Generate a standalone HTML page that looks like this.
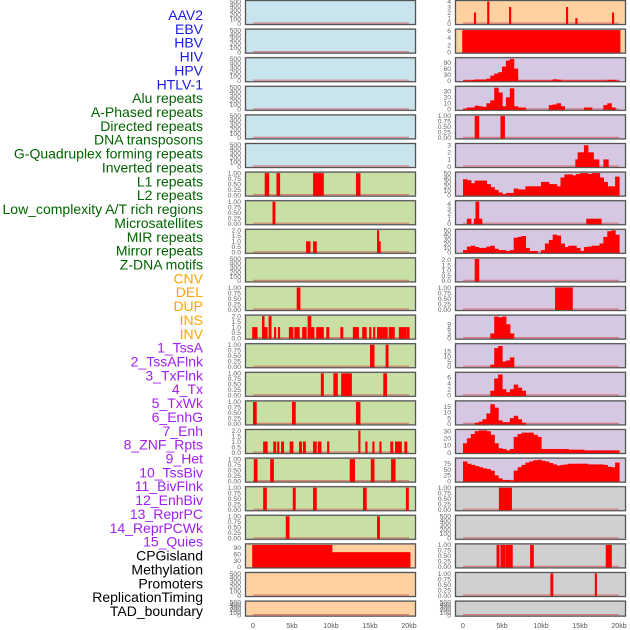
<!DOCTYPE html>
<html><head><meta charset="utf-8">
<style>
html,body{margin:0;padding:0;background:#fff;}
svg{display:block;font-family:"Liberation Sans",sans-serif;}
</style></head>
<body>
<svg id="chart" width="630" height="630" viewBox="0 0 630 630"></svg>
<script>
// ---- labels ----
const trackLabels = ["AAV2","EBV","HBV","HIV","HPV","HTLV-1","Alu repeats","A-Phased repeats","Directed repeats","DNA transposons","G-Quadruplex forming repeats","Inverted repeats","L1 repeats","L2 repeats","Low_complexity A/T rich regions","Microsatellites","MIR repeats","Mirror repeats","Z-DNA motifs","CNV","DEL","DUP","INS","INV","1_TssA","2_TssAFlnk","3_TxFlnk","4_Tx","5_TxWk","6_EnhG","7_Enh","8_ZNF_Rpts","9_Het","10_TssBiv","11_BivFlnk","12_EnhBiv","13_ReprPC","14_ReprPCWk","15_Quies","CPGisland","Methylation","Promoters","ReplicationTiming","TAD_boundary"];
const labelGroupSizes = [6,13,5,15,5];
const xTickValues = [0,5,10,15,20];
const xTickLabels = ["0","5kb","10kb","15kb","20kb"];
// ---- tick sets ----
const ticks500 = [0,100,200,300,400,500];
const ticks1 = [0,0.25,0.5,0.75,1];
const ticks2 = [0,0.5,1,1.5,2];
// ---- left column data (segments: start kb, end kb, value) ----
const leftL1 = [[1.5,2.0,1],[3.0,3.4,1],[7.7,9.0,1],[13.2,13.7,1]];
const leftL2 = [[2.5,2.8,1]];
const leftMIR = [[6.8,7.3,1],[7.7,8.1,1],[15.9,16.1,2],[16.1,16.3,1]];
const leftMicro = [[5.6,6.0,1]];
const leftINS = [[-0.1,0.5,1],[1.15,1.4,2],[1.4,1.8,1],[2.0,2.3,2],[2.7,2.9,1],[3.2,3.4,1],[4.6,5.1,1],[5.3,5.9,1],[6.3,6.8,1],[7.0,7.4,2],[7.4,7.8,1],[8.1,9.0,1],[9.4,9.7,1],[11.2,11.5,1],[12.8,13.5,1],[14.0,14.5,1],[14.9,15.1,1],[15.4,15.6,1],[15.9,17.2,1],[17.4,18.1,1],[18.7,19.6,1],[19.7,20.0,1]];
const leftR13 = [[15.0,15.5,1],[17.0,17.3,1]];
const leftR14 = [[8.7,9.0,1],[10.3,10.8,1],[11.3,12.6,1],[16.7,17.1,1]];
const leftR15 = [[0,0.4,1],[5.0,5.4,1],[13.2,13.7,1]];
const leftR16 = [[1.3,1.8,1],[2.6,2.9,1],[3.1,3.3,1],[3.6,3.9,1],[4.7,5.1,1],[5.9,6.2,1],[6.4,6.7,1],[7.7,8.1,1],[8.3,8.7,1],[9.5,9.7,1],[13.5,13.7,2],[14.4,14.6,1],[15.3,15.5,1],[16.2,16.4,1],[17.6,17.9,1],[18.2,19.0,1],[19.4,19.7,1]];
const leftR17 = [[0.1,0.5,1],[2.2,2.6,1],[12.4,13.0,1],[15.1,15.5,1],[17.7,18.2,1]];
const leftR18 = [[1.3,1.7,1],[5.1,5.4,1],[7.7,8.1,1],[14.1,14.5,1],[19.6,19.9,1]];
const leftR19 = [[4.2,4.6,1],[15.9,16.2,1]];
const leftCPG = [[-0.1,10.1,103],[10.1,20.1,69]];
// ---- right column data ----
const rightAAV2 = [[1.4,1.6,2],[3.1,3.3,4],[5.9,6.1,3],[13.2,13.4,3],[14.4,14.6,1],[19.1,19.3,2]];
const rightHBV = [[-0.1,20.1,6.2]];
const rightHIVBins = [2,2,3,6,6,6,10,25,35,42,70,100,108,60,1,1,1,1,1,1,1,1,1,7,5,1,1,1,1,1,1,1,1,1,1,1,1,4,4,1];
const rightAluBins = [1,3,3,6,5,4,10,15,36,28,5,20,35,5,3,3,0,0,0,0,0,0,7,8,10,5,0,0,0,0,0,3,3,0,0,0,7,10,3,0];
const rightDirected = [[1.5,2.0,1],[4.8,5.3,1]];
const rightDNA = [[14.4,14.7,1],[14.7,15.5,2],[15.5,16.0,3],[16.0,16.7,2],[16.7,17.4,1],[18.0,18.6,1]];
const rightGQuadBins = [36,34,27,33,33,33,25,18,12,6,2,5,5,15,13,13,20,20,20,20,30,30,25,25,20,40,47,47,45,48,50,50,48,50,50,40,30,20,20,42];
const rightL2 = [[0.5,1.0,1],[1.4,1.6,1],[1.6,2.0,4.4],[2.0,2.4,1],[15.8,17.7,1]];
const rightMIRBins = [5,13,15,12,10,10,13,15,8,5,5,3,5,33,35,37,10,3,3,0,5,20,28,40,38,20,12,15,15,10,3,12,13,15,15,20,35,48,50,40];
const rightMirror = [[1.5,2.0,2.1]];
const rightZDNA = [[11.8,14.0,1]];
const rightR12 = [[3.5,4.0,3],[4.0,4.5,14],[4.5,5.0,13.5],[5.0,5.5,14],[5.5,6.0,9],[6.0,6.5,3]];
const rightR13 = [[3.5,4.0,2],[4.0,4.5,18],[4.5,5.0,20],[5.0,5.5,5],[5.5,6.0,6],[6.0,6.5,9]];
const rightR14 = [[3.5,4.0,1.5],[4.0,4.5,5.5],[4.5,5.0,6.8],[5.0,5.5,2],[5.5,6.0,1],[6.0,6.5,2],[6.5,7.0,3.5],[7.0,7.5,2.5],[7.5,8.0,1.5]];
const rightR15 = [[1.5,2.0,1],[2.0,2.5,2],[2.5,3.0,4],[3.0,3.5,9],[3.5,4.0,17],[4.0,4.5,14],[4.5,5.0,3],[5.0,6.0,1.5],[6.0,6.5,5],[6.5,7.0,7],[7.0,7.5,4],[7.5,8.0,1]];
const rightR16Bins = [13,20,26,30,31,31,30,25,13,6,5,3,5,22,26,28,28,28,25,22,5,5,5,5,5,5,5,4,4,4,4,3,3,3,3,3,3,3,3,3];
const rightR17Bins = [85,75,70,65,60,55,52,45,25,12,5,5,3,45,60,70,80,85,90,92,88,85,78,72,67,70,72,75,75,75,75,75,72,72,72,72,70,62,60,80];
const rightR18 = [[4.6,6.2,1]];
const rightR20 = [[4.3,4.6,1],[4.8,5.4,1],[5.5,6.3,1],[8.6,9.0,1],[18.3,19.0,1]];
const rightR21 = [[11.2,11.5,1],[16.9,17.1,1]];

const NS = "http://www.w3.org/2000/svg";
const svg = document.getElementById("chart");
function mk(tag, attrs, parent){
  const e = document.createElementNS(NS, tag);
  for (const k in attrs) e.setAttribute(k, attrs[k]);
  (parent||svg).appendChild(e);
  return e;
}
const COLS = {L:{px:245, x0:253}, R:{px:455, x0:463}};
const PW = 171, PXKB = 7.8;
const BG = {blue:"#c8e4ec", green:"#c8e0a4", orange:"#ffd0a0", purple:"#d6c8e2", gray:"#d0d0d0"};
function rowTop(r){ return 28.6*(r-1); }
function rowH(r){ return r===22 ? 16 : 25; }
function fmt(t, ts){
  if (ts===ticks1) return t.toFixed(2);
  if (ts===ticks2) return t.toFixed(1);
  return String(t);
}
const panels = [];
function P(col,row,bg,ymax,ticks,segs,bins,name){ panels.push({col,row,bg,ymax,ticks,segs,bins,name}); }
for (let r=1;r<=6;r++) P("L",r,"blue",500,ticks500,null,null,"left-track-"+r);
P("L",7,"green",1,ticks1,leftL1,null,"left-track-7");
P("L",8,"green",1,ticks1,leftL2,null,"left-track-8");
P("L",9,"green",2,ticks2,leftMIR,null,"left-track-9");
P("L",10,"green",500,ticks500,null,null,"left-track-10");
P("L",11,"green",1,ticks1,leftMicro,null,"left-track-11");
P("L",12,"green",2,ticks2,leftINS,null,"left-track-12");
P("L",13,"green",1,ticks1,leftR13,null,"left-track-13");
P("L",14,"green",1,ticks1,leftR14,null,"left-track-14");
P("L",15,"green",1,ticks1,leftR15,null,"left-track-15");
P("L",16,"green",2,ticks2,leftR16,null,"left-track-16");
P("L",17,"green",1,ticks1,leftR17,null,"left-track-17");
P("L",18,"green",1,ticks1,leftR18,null,"left-track-18");
P("L",19,"green",1,ticks1,leftR19,null,"left-track-19");
P("L",20,"orange",103,[0,30,60,90],leftCPG,null,"left-track-20");
P("L",21,"orange",500,ticks500,null,null,"left-track-21");
P("L",22,"orange",500,ticks500,null,null,"left-track-22");
P("R",1,"orange",4,[0,1,2,3,4],rightAAV2,null,"right-track-1");
P("R",2,"orange",6.2,[0,2,4,6],rightHBV,null,"right-track-2");
P("R",3,"purple",109,[0,30,60,90],null,rightHIVBins,"right-track-3");
P("R",4,"purple",36.7,[0,10,20,30],null,rightAluBins,"right-track-4");
P("R",5,"purple",1,ticks1,rightDirected,null,"right-track-5");
P("R",6,"purple",3.1,[0,1,2,3],rightDNA,null,"right-track-6");
P("R",7,"purple",50,[0,10,20,30,40,50],null,rightGQuadBins,"right-track-7");
P("R",8,"purple",4.4,[0,1,2,3,4],rightL2,null,"right-track-8");
P("R",9,"purple",50,[0,10,20,30,40,50],null,rightMIRBins,"right-track-9");
P("R",10,"purple",2.1,ticks2,rightMirror,null,"right-track-10");
P("R",11,"purple",1,ticks1,rightZDNA,null,"right-track-11");
P("R",12,"purple",14.3,[0,3,6,9],rightR12,null,"right-track-12");
P("R",13,"purple",21.3,[0,5,10,15],rightR13,null,"right-track-13");
P("R",14,"purple",7.2,[0,2,4,6],rightR14,null,"right-track-14");
P("R",15,"purple",19,[0,5,10,15],rightR15,null,"right-track-15");
P("R",16,"purple",31,[0,10,20,30],null,rightR16Bins,"right-track-16");
P("R",17,"purple",95,[0,25,50,75],null,rightR17Bins,"right-track-17");
P("R",18,"gray",1,ticks1,rightR18,null,"right-track-18");
P("R",19,"gray",500,ticks500,null,null,"right-track-19");
P("R",20,"gray",1,ticks1,rightR20,null,"right-track-20");
P("R",21,"gray",1,ticks1,rightR21,null,"right-track-21");
P("R",22,"gray",500,ticks500,null,null,"right-track-22");

panels.forEach(p=>{
  const c = COLS[p.col], top = rowTop(p.row), h = rowH(p.row);
  const g = mk("g",{});
  
  
  const bg = mk("rect",{x:c.px+0.5,y:top+0.5,width:PW-1,height:h-1,fill:BG[p.bg],stroke:"#9a9a9a","stroke-width":1.6},g);
  
  
  const xs = kb => c.x0 + kb*PXKB;
  const ys = v => top + h - 1.5 - Math.min(v,p.ymax)/p.ymax*(h-3);
  const base = ys(0);
  const bl = mk("line",{x1:xs(0),x2:xs(20),y1:base-0.5,y2:base-0.5,stroke:"rgba(220,60,60,0.55)","stroke-width":1.2},g);
  
  
  const bars = [];
  if (p.segs) p.segs.forEach(s=>bars.push([s[0],s[1],s[2]]));
  if (p.bins) p.bins.forEach((v,i)=>{ if (v>0) bars.push([i*0.5,(i+1)*0.5,v]); });
  bars.forEach(b=>{
    const x1 = xs(b[0]), x2 = xs(b[1]);
    const y = ys(b[2]);
    const rc = mk("rect",{x:x1,y:y,width:Math.max(1.2,x2-x1+0.6),height:Math.max(0,base-y+1),fill:"#ff0000"},g);
    
    
  });
  mk("rect",{x:c.px+0.5,y:top+0.5,width:PW-1,height:h-1,fill:"none",stroke:"#555","stroke-width":1},g);
  p.ticks.forEach(t=>{
    const tx = mk("text",{x:c.px-4,y:ys(t)+2.3,"font-size":6.8,fill:"#666","text-anchor":"end"},g);
    tx.textContent = fmt(t,p.ticks);
    
    
  });
});

["L","R"].forEach(col=>{
  const c = COLS[col];
  xTickValues.forEach((v,i)=>{
    const t = mk("text",{x:c.x0+v*PXKB,y:628,"font-size":7,fill:"#555","text-anchor":"middle"});
    t.textContent = xTickLabels[i];
    
    
  });
});

const groupColors = ["#1a1ae6","#006400","#ffa500","#a020f0","#000000"];
let li = 0;
labelGroupSizes.forEach((n,gi)=>{
  for (let k=0;k<n;k++){
    const t = mk("text",{x:203,y:15+li*13.86+5,"font-size":14,fill:groupColors[gi],"text-anchor":"end"});
    t.textContent = trackLabels[li];
    
    
    li++;
  }
});
</script>
</body></html>
